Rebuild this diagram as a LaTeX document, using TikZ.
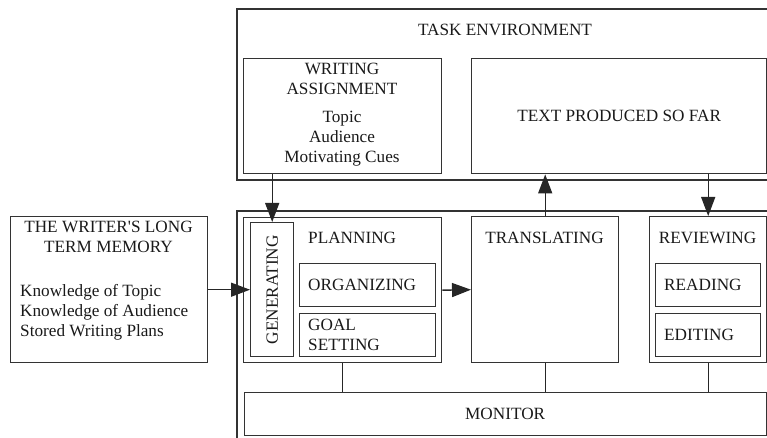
\documentclass[tikz,border=0pt]{standalone}
\usepackage{fontspec}
\setmainfont{Liberation Serif}
\usetikzlibrary{arrows.meta}

\begin{document}
\begin{tikzpicture}[x=1pt, y=-1pt,
    font=\fontsize{17.2}{20}\selectfont,
    box/.style={draw=black!80, line width=1.4pt, anchor=north west, inner sep=0pt},
    frame/.style={draw=black!80, line width=1.4pt},
    lbl/.style={inner sep=0pt, text=black!90},
    arr/.style={draw=black!85, line width=1.4pt, -{Triangle[length=19pt, width=14pt]}},
    link/.style={draw=black!85, line width=1.4pt}]

    \useasboundingbox (0,0) rectangle (767,438);

    % Outer frames (cut off at the right and bottom)
    \draw[frame] (767,9) -| (237,180) -- (767,180);
    \draw[frame] (767,211) -| (237,438);

    % Task environment
    \node[lbl, anchor=base] (taskenv) at (505,36) {TASK ENVIRONMENT};
    \node[box, minimum width=198pt, minimum height=115pt] (assign) at (243,58) {};
    \node[box, minimum width=295pt, minimum height=115pt] (sofar) at (471,58) {};
    \node[lbl, align=center, anchor=north] (assigntxt) at (342,63)
        {WRITING\\ASSIGNMENT\\[8pt]Topic\\Audience\\Motivating Cues};
    \node[lbl] (sofartxt) at (sofar) {TEXT PRODUCED SO FAR};

    % Long term memory
    \node[box, minimum width=197pt, minimum height=146pt] (memory) at (10,216) {};
    \node[lbl, align=center, anchor=north] (memtitle) at (108.5,221)
        {THE WRITER\textquotesingle S LONG\\TERM MEMORY};
    \node[lbl, align=left, anchor=north west] (memlist) at (20,284)
        {Knowledge of Topic\\Knowledge of Audience\\Stored Writing Plans};

    % Planning
    \node[box, minimum width=198pt, minimum height=145pt] (planning) at (243,217) {};
    \node[box, minimum width=43pt, minimum height=134pt] (gen) at (250,222) {};
    \node[box, minimum width=136pt, minimum height=43pt] (org) at (299,263) {};
    \node[box, minimum width=136pt, minimum height=43pt] (goal) at (299,313) {};
    \node[lbl, rotate=90] (gentxt) at (gen) {GENERATING};
    \node[lbl, anchor=base west] (plantxt) at (308,243) {PLANNING};
    \node[lbl, anchor=west] (orgtxt) at ([xshift=9pt]org.west) {ORGANIZING};
    \node[lbl, anchor=west, align=left] (goaltxt) at ([xshift=9pt]goal.west) {GOAL\\SETTING};

    % Translating
    \node[box, minimum width=147pt, minimum height=146pt] (trans) at (471,216) {};
    \node[lbl, anchor=base] (transtxt) at (544.5,243) {TRANSLATING};

    % Reviewing
    \node[box, minimum width=117pt, minimum height=146pt] (rev) at (649,216) {};
    \node[box, minimum width=105pt, minimum height=43pt] (read) at (655,263) {};
    \node[box, minimum width=105pt, minimum height=43pt] (edit) at (655,313) {};
    \node[lbl, anchor=base] (revtxt) at (707.5,243) {REVIEWING};
    \node[lbl, anchor=west] (readtxt) at ([xshift=9pt]read.west) {READING};
    \node[lbl, anchor=west] (edittxt) at ([xshift=9pt]edit.west) {EDITING};

    % Monitor
    \node[box, minimum width=522pt, minimum height=43pt] (monitor) at (244,392) {};
    \node[lbl, anchor=west] (montxt) at (465,413.5) {MONITOR};

    % Arrows
    \draw[arr] (gen.north |- assign.south) -- (gen.north);
    \draw[arr] (memory.east) -- (gen.west);
    \draw[arr] (planning.east) -- (trans.west);
    \draw[arr] (trans.north) -- (trans.north |- sofar.south);
    \draw[arr] (rev.north |- sofar.south) -- (rev.north);

    % Links to the monitor
    \draw[link] (planning.south) -- (planning.south |- monitor.north);
    \draw[link] (trans.south) -- (trans.south |- monitor.north);
    \draw[link] (rev.south) -- (rev.south |- monitor.north);

\end{tikzpicture}
\end{document}
